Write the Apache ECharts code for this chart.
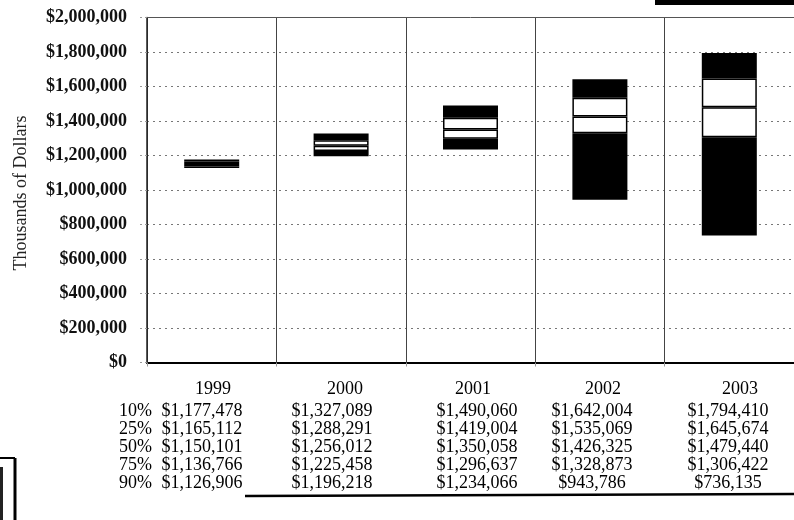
<!DOCTYPE html>
<html>
<head>
<meta charset="utf-8">
<script src="https://cdn.jsdelivr.net/npm/echarts@6/dist/echarts.min.js"></script>
<style>
html,body{margin:0;padding:0;background:#fff;}
#chart{width:794px;height:520px;}
</style>
</head>
<body>
<div id="chart"></div>
<script>
// ---- data ----
const years = ['1999', '2000', '2001', '2002', '2003'];
const pctLabels = ['10%', '25%', '50%', '75%', '90%'];
const p10 = [1177478, 1327089, 1490060, 1642004, 1794410];
const p25 = [1165112, 1288291, 1419004, 1535069, 1645674];
const p50 = [1150101, 1256012, 1350058, 1426325, 1479440];
const p75 = [1136766, 1225458, 1296637, 1328873, 1306422];
const p90 = [1126906, 1196218, 1234066, 943786, 736135];
const yAxisTitle = 'Thousands of Dollars';

// ---- layout / style ----
const FONT = 'Liberation Serif';
const headerX = [213, 345, 473, 603, 740];
const valueX = [202, 332, 477, 592, 728];
const pctX = 152;
const headerY = 389;
const rowY0 = 411, rowStep = 18;

const fmt = v => '$' + v.toLocaleString('en-US');

const chart = echarts.init(document.getElementById('chart'), null, {renderer: 'canvas'});

const diff = (a, b) => a.map((v, i) => v - b[i]);
const segStyle = (fill) => ({color: fill, borderColor: '#000', borderWidth: 1.5});

const graphics = [];
// y-axis title
graphics.push({
  type: 'text', x: 21, y: 193, rotation: Math.PI / 2,
  style: {text: yAxisTitle, font: '18px "' + FONT + '"', fill: '#222', textAlign: 'center', textVerticalAlign: 'middle'}
});
// table headers
years.forEach((y, i) => {
  graphics.push({type: 'text', x: headerX[i], y: headerY,
    style: {text: y, font: '18px "' + FONT + '"', fill: '#000', textAlign: 'center', textVerticalAlign: 'middle'}});
});
const rows = [p10, p25, p50, p75, p90];
rows.forEach((arr, r) => {
  const yy = rowY0 + r * rowStep;
  graphics.push({type: 'text', x: pctX, y: yy,
    style: {text: pctLabels[r], font: '18px "' + FONT + '"', fill: '#000', textAlign: 'right', textVerticalAlign: 'middle'}});
  arr.forEach((v, i) => {
    graphics.push({type: 'text', x: valueX[i], y: yy,
      style: {text: fmt(v), font: '18px "' + FONT + '"', fill: '#000', textAlign: 'center', textVerticalAlign: 'middle'}});
  });
});
// table underline
graphics.push({type: 'line', shape: {x1: 245, y1: 496, x2: 794, y2: 494}, style: {stroke: '#000', lineWidth: 2.5}});
// cropped decorations at the edges
graphics.push({type: 'rect', shape: {x: 655, y: 0, width: 139, height: 5}, style: {fill: '#000'}});
graphics.push({type: 'line', shape: {x1: 0, y1: 458, x2: 15, y2: 458}, style: {stroke: '#000', lineWidth: 2}});
graphics.push({type: 'line', shape: {x1: 15, y1: 458, x2: 15, y2: 520}, style: {stroke: '#000', lineWidth: 3}});
graphics.push({type: 'rect', shape: {x: 0, y: 467, width: 3, height: 53}, style: {fill: '#222'}});

const option = {
  animation: false,
  backgroundColor: '#fff',
  grid: {left: 147, right: -11, top: 17.5, bottom: 157.5, containLabel: false},
  xAxis: [{
    type: 'category', data: years, position: 'bottom',
    axisLine: {show: true, lineStyle: {color: '#000', width: 2}},
    axisTick: {show: true, length: 4, lineStyle: {color: '#999'}},
    axisLabel: {show: false},
    splitLine: {show: true, lineStyle: {color: '#444', width: 1}}
  }, {
    type: 'category', data: years, position: 'top',
    axisLine: {show: true, lineStyle: {color: '#555', width: 1}},
    axisTick: {show: false}, axisLabel: {show: false}, splitLine: {show: false}
  }],
  yAxis: {
    type: 'value', min: 0, max: 2000000, interval: 200000,
    axisLine: {show: true, lineStyle: {color: '#222', width: 1.5}},
    axisTick: {show: true, length: 7, lineStyle: {color: '#999', type: [2, 3]}},
    axisLabel: {
      margin: 20, color: '#111', fontFamily: FONT, fontSize: 18, fontWeight: 'bold',
      formatter: v => fmt(v)
    },
    splitLine: {show: true, lineStyle: {color: '#777', width: 1, type: [2, 4]}}
  },
  series: [
    {type: 'bar', stack: 's', barWidth: 55, data: p90, itemStyle: {color: 'rgba(0,0,0,0)'}, silent: true},
    {type: 'bar', stack: 's', barWidth: 55, data: diff(p75, p90), itemStyle: segStyle('#000')},
    {type: 'bar', stack: 's', barWidth: 55, data: diff(p50, p75), itemStyle: segStyle('#fff')},
    {type: 'bar', stack: 's', barWidth: 55, data: diff(p25, p50), itemStyle: segStyle('#fff')},
    {type: 'bar', stack: 's', barWidth: 55, data: diff(p10, p25), itemStyle: segStyle('#000')}
  ],
  graphic: graphics
};
chart.setOption(option);
</script>
</body>
</html>
